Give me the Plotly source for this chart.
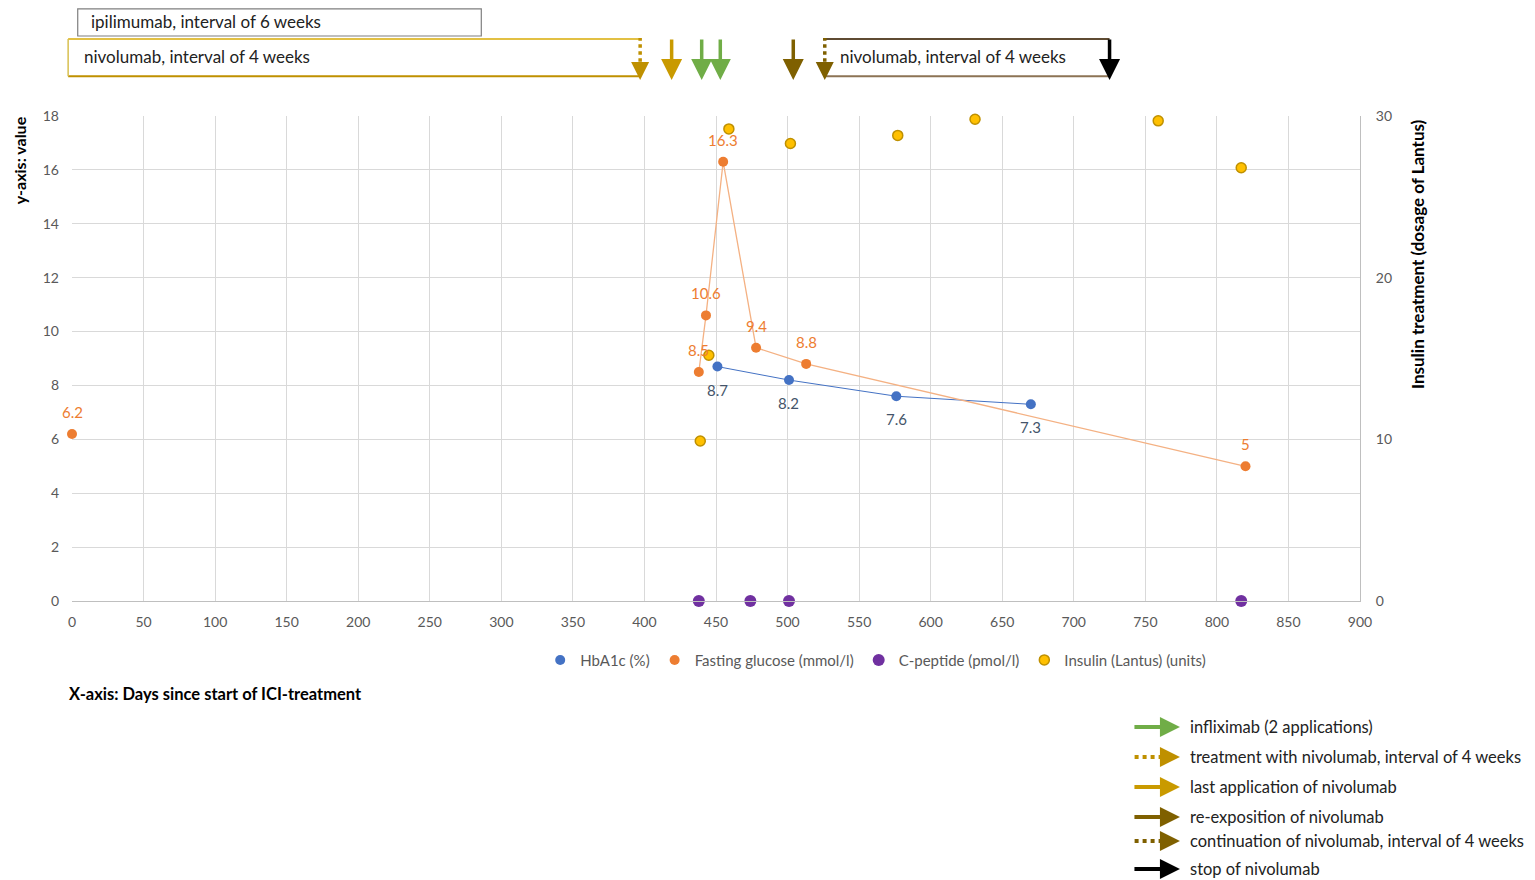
import plotly.graph_objects as go

# days since start of ICI treatment and measured values
hba1c_days = [451, 501, 576, 670]
hba1c_vals = [8.7, 8.2, 7.6, 7.3]

glucose_days = [0, 438, 443, 455, 478, 513, 820]
glucose_vals = [6.2, 8.5, 10.6, 16.3, 9.4, 8.8, 5.0]

cpeptide_days = [438, 474, 501, 817]
cpeptide_vals = [0.0, 0.0, 0.0, 0.0]

insulin_days = [439, 445, 459, 502, 577, 631, 759, 817]
insulin_vals = [9.9, 15.2, 29.2, 28.3, 28.8, 29.8, 29.7, 26.8]

# therapy events shown as arrows above the chart
event_days = [397, 419, 440, 453, 504, 526, 725]
event_kinds = ["nivo", "last", "inflix", "inflix", "reexpo", "contin", "stop"]
ipi_days = [4, 286]

legend_kinds = ["inflix", "nivo", "last", "reexpo", "contin", "stop"]
legend_texts = ["infliximab (2 applications)",
                "treatment with nivolumab, interval of 4 weeks",
                "last application of nivolumab",
                "re-exposition of nivolumab",
                "continuation of nivolumab, interval of 4 weeks",
                "stop of nivolumab"]

kind_color = {"nivo": "#BF9000", "last": "#C99A00", "inflix": "#70AD47",
              "reexpo": "#7F6000", "contin": "#7F6000", "stop": "#000000"}
dotted = {"nivo", "contin"}

BLUE, ORANGE, PURPLE, YELLOW = "#4472C4", "#ED7D31", "#7030A0", "#FFC000"
FONT = "Lato"
XMAX = 900


def px_x(d):
    # day -> paper x (so shapes left of the axis are not clipped)
    return d / XMAX


fig = go.Figure()

# connecting lines (kept out of the legend)
fig.add_trace(go.Scatter(x=hba1c_days, y=hba1c_vals, mode="lines",
                         line=dict(color=BLUE, width=1), showlegend=False, hoverinfo="skip"))
fig.add_trace(go.Scatter(x=glucose_days[1:], y=glucose_vals[1:], mode="lines",
                         line=dict(color="#F4B183", width=1.3), showlegend=False, hoverinfo="skip"))

fig.add_trace(go.Scatter(
    x=hba1c_days, y=hba1c_vals, mode="markers", name="HbA1c (%)",
    marker=dict(color=BLUE, size=10)))
fig.add_trace(go.Scatter(
    x=glucose_days, y=glucose_vals, mode="markers", name="Fasting glucose (mmol/l)",
    marker=dict(color=ORANGE, size=10), cliponaxis=False))
fig.add_trace(go.Scatter(
    x=cpeptide_days, y=cpeptide_vals, mode="markers", name="C-peptide (pmol/l)",
    marker=dict(color=PURPLE, size=12), cliponaxis=False))
fig.add_trace(go.Scatter(
    x=insulin_days, y=insulin_vals, mode="markers", name="Insulin (Lantus) (units)",
    marker=dict(color=YELLOW, size=10, line=dict(color="#BF9000", width=1.5)),
    yaxis="y2", cliponaxis=False))

shapes = []
annotations = []

# data labels
for d, v in zip(hba1c_days, hba1c_vals):
    annotations.append(dict(x=d, y=v, xref="x", yref="y", text=f"{v:g}", showarrow=False,
                            yshift=-23, font=dict(size=15, color="#44546A", family=FONT)))
for d, v in zip(glucose_days, glucose_vals):
    annotations.append(dict(x=d, y=v, xref="x", yref="y", text=f"{v:g}", showarrow=False,
                            yshift=22, font=dict(size=15, color=ORANGE, family=FONT)))

# treatment boxes above the plot area
shapes.append(dict(type="rect", xref="paper", yref="paper", x0=px_x(ipi_days[0]),
                   x1=px_x(ipi_days[1]), y0=1.165, y1=1.221,
                   line=dict(color="#7F7F7F", width=1.2), fillcolor="white"))
annotations.append(dict(text="ipilimumab, interval of 6 weeks", xref="paper", yref="paper",
                        x=px_x(12), y=1.195, xanchor="left", yanchor="middle", showarrow=False,
                        font=dict(size=17, color="#222", family=FONT)))

for y, c in [(1.159, "#E2C044"), (1.082, "#BF9000")]:
    shapes.append(dict(type="line", xref="paper", yref="paper", x0=-0.003,
                       x1=px_x(event_days[0]), y0=y, y1=y, line=dict(color=c, width=2)))
shapes.append(dict(type="line", xref="paper", yref="paper", x0=-0.003, x1=-0.003,
                   y0=1.082, y1=1.159, line=dict(color="#D8C050", width=1.5)))
annotations.append(dict(text="nivolumab, interval of 4 weeks", xref="paper", yref="paper",
                        x=px_x(7), y=1.122, xanchor="left", yanchor="middle", showarrow=False,
                        font=dict(size=17, color="#222", family=FONT)))

for y, c in [(1.159, "#5F4B32"), (1.082, "#8C7355")]:
    shapes.append(dict(type="line", xref="paper", yref="paper", x0=px_x(event_days[5]),
                       x1=px_x(event_days[6]), y0=y, y1=y, line=dict(color=c, width=2)))
annotations.append(dict(text="nivolumab, interval of 4 weeks", xref="paper", yref="paper",
                        x=px_x(535), y=1.122, xanchor="left", yanchor="middle",
                        showarrow=False, font=dict(size=17, color="#222", family=FONT)))

# event arrows
for d, k in zip(event_days, event_kinds):
    c = kind_color[k]
    if k in dotted:
        shapes.append(dict(type="line", xref="paper", yref="paper", x0=px_x(d), x1=px_x(d),
                           y0=1.112, y1=1.161, line=dict(color=c, width=3.5, dash="dot")))
        annotations.append(dict(x=px_x(d), y=1.074, xref="paper", yref="paper", ax=0, ay=-18,
                                text="", showarrow=True, arrowhead=2, arrowsize=1.2,
                                arrowwidth=3, arrowcolor=c))
    else:
        annotations.append(dict(x=px_x(d), y=1.074, xref="paper", yref="paper", ax=0, ay=-42,
                                text="", showarrow=True, arrowhead=2, arrowsize=1.2,
                                arrowwidth=3.5, arrowcolor=c))

# arrow legend bottom right
legend_rows = [-0.2598, -0.3216, -0.3835, -0.4454, -0.4948, -0.5526]
for y, k, t in zip(legend_rows, legend_kinds, legend_texts):
    c = kind_color[k]
    if k in dotted:
        shapes.append(dict(type="line", xref="paper", yref="paper", x0=0.825, x1=0.848,
                           y0=y, y1=y, line=dict(color=c, width=4, dash="dot")))
        annotations.append(dict(x=0.8602, y=y, xref="paper", yref="paper", ax=-16, ay=0,
                                text="", showarrow=True, arrowhead=2, arrowsize=1,
                                arrowwidth=4, arrowcolor=c))
    else:
        annotations.append(dict(x=0.8602, y=y, xref="paper", yref="paper", ax=-47, ay=0,
                                text="", showarrow=True, arrowhead=2, arrowsize=1,
                                arrowwidth=4, arrowcolor=c))
    annotations.append(dict(text=t, x=0.8665, y=y, xref="paper", yref="paper",
                            xanchor="left", yanchor="middle", showarrow=False,
                            font=dict(size=16.5, color="#222", family=FONT)))

# axis titles
annotations.append(dict(text="<b>X-axis: Days since start of ICI-treatment</b>", x=-0.004,
                        y=-0.192, xref="paper", yref="paper", xanchor="left", yanchor="middle",
                        showarrow=False, font=dict(size=16.5, color="#000", family=FONT)))
annotations.append(dict(text="<b>y-axis: value</b>", x=-0.041, y=0.909, xref="paper",
                        yref="paper", xanchor="center", yanchor="middle", textangle=-90,
                        showarrow=False, font=dict(size=16, color="#000", family=FONT)))
annotations.append(dict(text="<b>Insulin treatment (dosage of Lantus)</b>", x=1.045, y=0.7155,
                        xref="paper", yref="paper", xanchor="center", yanchor="middle",
                        textangle=-90, showarrow=False,
                        font=dict(size=17, color="#000", family=FONT)))

fig.update_layout(
    width=1527, height=872,
    margin=dict(l=64, r=175, t=108, b=279),
    plot_bgcolor="white", paper_bgcolor="white",
    font=dict(family=FONT, size=14, color="#595959"),
    xaxis=dict(range=[0, XMAX], dtick=50, showgrid=True, gridcolor="#D9D9D9", zeroline=False,
               showline=True, linecolor="#BFBFBF", ticks="", ticklabelstandoff=8,
               tickfont=dict(size=14, color="#595959")),
    yaxis=dict(range=[0, 18], dtick=2, showgrid=True, gridcolor="#D9D9D9", zeroline=False,
               showline=False, ticklabelstandoff=12, tickfont=dict(size=14, color="#595959")),
    yaxis2=dict(range=[0, 30], dtick=10, overlaying="y", side="right", showgrid=False,
                zeroline=False, showline=True, linecolor="#BFBFBF", ticklabelstandoff=12,
                tickfont=dict(size=14, color="#595959")),
    legend=dict(orientation="h", x=0.624, xanchor="center", y=-0.122, yanchor="middle",
                itemwidth=30, font=dict(size=15, color="#595959", family=FONT)),
    shapes=shapes, annotations=annotations,
)

fig.write_html("out.html")
